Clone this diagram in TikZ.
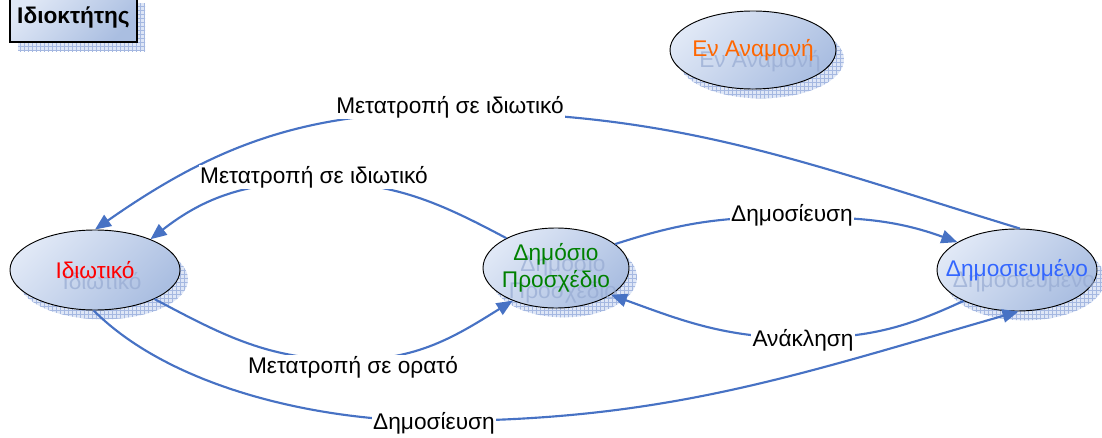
\documentclass[tikz,border=0pt]{standalone}
\usepackage{fontspec}
\setmainfont{Liberation Sans}
\usetikzlibrary{shapes.geometric}
\usetikzlibrary{shadows}
\usetikzlibrary{patterns}
\usetikzlibrary{arrows.meta}

\definecolor{edgeblue}{RGB}{71,114,196}
\definecolor{fillhi}{RGB}{224,232,246}
\definecolor{filllo}{RGB}{170,190,225}
\definecolor{shadowfill}{RGB}{222,230,246}
\definecolor{shadowgrid}{RGB}{165,184,225}
\definecolor{ghosttext}{RGB}{150,170,210}
\definecolor{txtgreen}{RGB}{0,128,0}
\definecolor{txtblue}{RGB}{51,102,255}
\definecolor{txtorange}{RGB}{255,102,0}

\tikzset{
    gridshadow/.style = {general shadow={shadow xshift=6pt, shadow yshift=-7pt, fill=shadowfill},
                         general shadow={shadow xshift=6pt, shadow yshift=-7pt, pattern=grid, pattern color=shadowgrid}},
    mystate/.style = {ellipse, draw=black, line width=0.7pt, inner sep=0pt, top color=fillhi, bottom color=filllo, shading angle=45, gridshadow},
    ownerbox/.style = {rectangle, draw=black, line width=1.2pt, inner sep=0pt, top color=fillhi, bottom color=filllo, shading angle=45, gridshadow, font=\fontsize{17pt}{20pt}\selectfont\bfseries},
    mytext/.style = {align=center, inner sep=0pt},
    myghost/.style = {align=center, inner sep=0pt, text=ghosttext, text opacity=0.7},
    mylabel/.style = {fill=white, inner sep=1pt},
    edgeb/.style = {-{Triangle[length=12pt,width=10pt]}, line width=1.6pt, edgeblue}
}

\begin{document}
\begin{tikzpicture}[x=0.75pt, y=-0.75pt, font=\fontsize{17pt}{20pt}\selectfont]
  \useasboundingbox (0,0) rectangle (1102,438);

  \node[ownerbox, minimum width=95.25pt, minimum height=36pt] (owner) at (73.5,18) {Ιδιοκτήτης};

  % states
  \node[mystate, minimum width=127.5pt, minimum height=60pt] (idiotiko) at (95,270) {};
  \node[mystate, minimum width=109.5pt, minimum height=60pt] (prosxedio) at (556,268) {};
  \node[mystate, minimum width=120pt, minimum height=61.5pt] (dimosieumeno) at (1017,270) {};
  \node[mystate, minimum width=124.5pt, minimum height=58.5pt] (anamoni) at (753,50) {};

  \node[myghost] (idiotikoG) at ([shift={(7,11)}]idiotiko) {Ιδιωτικό};
  \node[myghost] (prosxedioG) at ([shift={(7,11)}]prosxedio) {Δημόσιο\\Προσχέδιο};
  \node[myghost] (dimosieumenoG) at ([shift={(7,11)}]dimosieumeno) {Δημοσιευμένο};
  \node[myghost] (anamoniG) at ([shift={(7,11)}]anamoni) {Εν Αναμονή};

  \node[mytext, text=red] (idiotikoT) at (idiotiko) {Ιδιωτικό};
  \node[mytext, text=txtgreen] (prosxedioT) at (prosxedio) {Δημόσιο\\Προσχέδιο};
  \node[mytext, text=txtblue] (dimosieumenoT) at (dimosieumeno) {Δημοσιευμένο};
  \node[mytext, text=txtorange] (anamoniT) at (anamoni) {Εν Αναμονή};

  % transitions
  \coordinate (topMid) at (450,112);
  \coordinate (privMid) at (316,182);
  \coordinate (pubMid) at (790,217);
  \coordinate (revMid) at (803,338);
  \coordinate (visMid) at (350,360);
  \coordinate (botMid) at (433,421);

  \draw[edgeb] (dimosieumeno.86) to[out=163,in=0] (topMid) to[out=180,in=35] (idiotiko.90);
  \draw[edgeb] (prosxedio.149) to[out=152,in=0] (privMid) to[out=180,in=38] (idiotiko.29);
  \draw[edgeb] (prosxedio.22) to[out=18,in=180] (pubMid) to[out=0,in=160] (dimosieumeno.155);
  \draw[edgeb] (dimosieumeno.210) to[out=205,in=0] (revMid) to[out=180,in=-20] (prosxedio.334);
  \draw[edgeb] (idiotiko.334) to[out=-28,in=180] (visMid) to[out=0,in=212] (prosxedio.217);
  \draw[edgeb] (idiotiko.268) to[out=-45,in=180,looseness=0.8] (botMid) to[out=0,in=196] (dimosieumeno.272);

  \node[mylabel] (topLbl) at (450,107) {Μετατροπή σε ιδιωτικό};
  \node[mylabel] (privLbl) at (314,177) {Μετατροπή σε ιδιωτικό};
  \node[mylabel] (pubLbl) at (792,215) {Δημοσίευση};
  \node[mylabel] (revLbl) at (803,340) {Ανάκληση};
  \node[mylabel] (visLbl) at (353,367) {Μετατροπή σε ορατό};
  \node[mylabel] (botLbl) at (434,423) {Δημοσίευση};
\end{tikzpicture}
\end{document}
